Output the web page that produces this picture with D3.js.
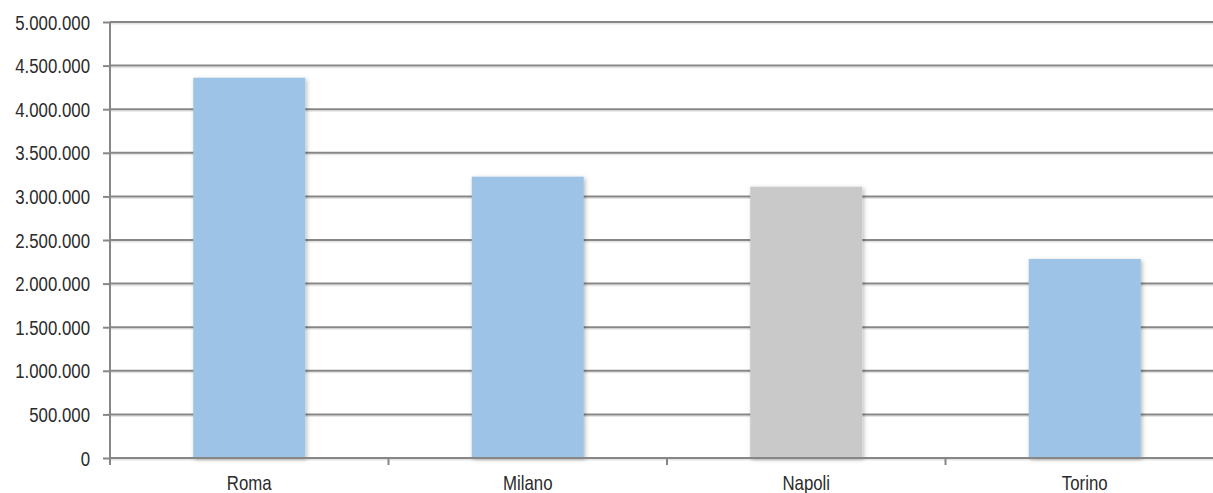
<!DOCTYPE html>
<html>
<head>
<meta charset="utf-8">
<script src="https://cdn.jsdelivr.net/npm/d3@7"></script>
<style>
  html, body { margin: 0; padding: 0; background: #fff; overflow: hidden; }
  svg { display: block; }
  text { font-family: "Liberation Sans", Arial, sans-serif; fill: #2b2b2b; }
</style>
</head>
<body>
<svg id="chart" width="1213" height="493"></svg>
<script>
// Resident population by city
const cities = ["Roma", "Milano", "Napoli", "Torino"];
const population = [4361000, 3226000, 3111000, 2282000];
const barColors = ["#9DC3E6", "#9DC3E6", "#C9C9C9", "#9DC3E6"];
const yTicks = [0, 500000, 1000000, 1500000, 2000000, 2500000, 3000000, 3500000, 4000000, 4500000, 5000000];

const svg = d3.select("#chart");
const W = 1213, H = 493;
const plotLeft = 110, plotRight = 1224, plotTop = 22, plotBottom = 458;
const narrow = 0.82;   // horizontal squeeze for a narrow face
const fontSize = 20.5;
const lineColor = "#878787";

const defs = svg.append("defs");
defs.append("filter").attr("id", "barShadow")
  .attr("x", "-10%").attr("y", "-10%").attr("width", "120%").attr("height", "120%")
  .append("feDropShadow")
  .attr("dx", 1.5).attr("dy", 1.5).attr("stdDeviation", 2)
  .attr("flood-color", "#000").attr("flood-opacity", 0.28);

const x = d3.scaleBand().domain(cities).range([plotLeft, plotRight]).paddingInner(0).paddingOuter(0);
const y = d3.scaleLinear().domain([0, 5000000]).range([plotBottom, plotTop]);

const fmt = v => d3.format(",")(v).replace(/,/g, ".");

// Horizontal gridlines (with a faint shadow line just beneath each one)
const grid = svg.append("g");
grid.selectAll("line.shadow").data(yTicks).join("line").attr("class", "shadow")
  .attr("x1", plotLeft).attr("x2", W)
  .attr("y1", d => y(d) + 1.8).attr("y2", d => y(d) + 1.8)
  .attr("stroke", "#000").attr("stroke-opacity", 0.1).attr("stroke-width", 1.5);
grid.selectAll("line.main").data(yTicks).join("line").attr("class", "main")
  .attr("x1", plotLeft).attr("x2", W)
  .attr("y1", d => y(d)).attr("y2", d => y(d))
  .attr("stroke", lineColor).attr("stroke-width", 2);

// Bars
const bw = 112;
svg.append("g").selectAll("rect").data(cities).join("rect")
  .attr("x", d => x(d) + x.bandwidth() / 2 - bw / 2)
  .attr("width", bw)
  .attr("y", (d, i) => y(population[i]))
  .attr("height", (d, i) => y(0) - y(population[i]))
  .attr("fill", (d, i) => barColors[i])
  .attr("filter", "url(#barShadow)");

// Y axis
const yAxis = svg.append("g").attr("transform", `translate(${plotLeft},0)`)
  .call(d3.axisLeft(y).tickValues(yTicks).tickFormat(fmt).tickSize(7).tickPadding(13));
yAxis.select(".domain").attr("stroke", lineColor).attr("stroke-width", 2)
  .attr("d", `M0,${plotTop}V${plotBottom + 7}`);
yAxis.selectAll(".tick line").attr("stroke", lineColor).attr("stroke-width", 2);
yAxis.selectAll(".tick text")
  .attr("font-size", fontSize).attr("fill", "#2b2b2b")
  .attr("x", null).attr("dy", "0.35em")
  .attr("transform", `translate(-20,0) scale(${narrow},1)`);

// X axis baseline, category ticks and labels
const xAxis = svg.append("g").attr("transform", `translate(0,${plotBottom})`);
xAxis.append("line").attr("x1", plotLeft).attr("x2", W).attr("y1", 0).attr("y2", 0)
  .attr("stroke", lineColor).attr("stroke-width", 2);
xAxis.selectAll("line.tk").data(cities.slice(1)).join("line").attr("class", "tk")
  .attr("x1", d => x(d)).attr("x2", d => x(d)).attr("y1", 0).attr("y2", 7)
  .attr("stroke", lineColor).attr("stroke-width", 2);
xAxis.selectAll("text").data(cities).join("text")
  .attr("transform", d => `translate(${x(d) + x.bandwidth() / 2},32) scale(${narrow},1)`)
  .attr("text-anchor", "middle")
  .attr("font-size", fontSize)
  .text(d => d);
</script>
</body>
</html>
